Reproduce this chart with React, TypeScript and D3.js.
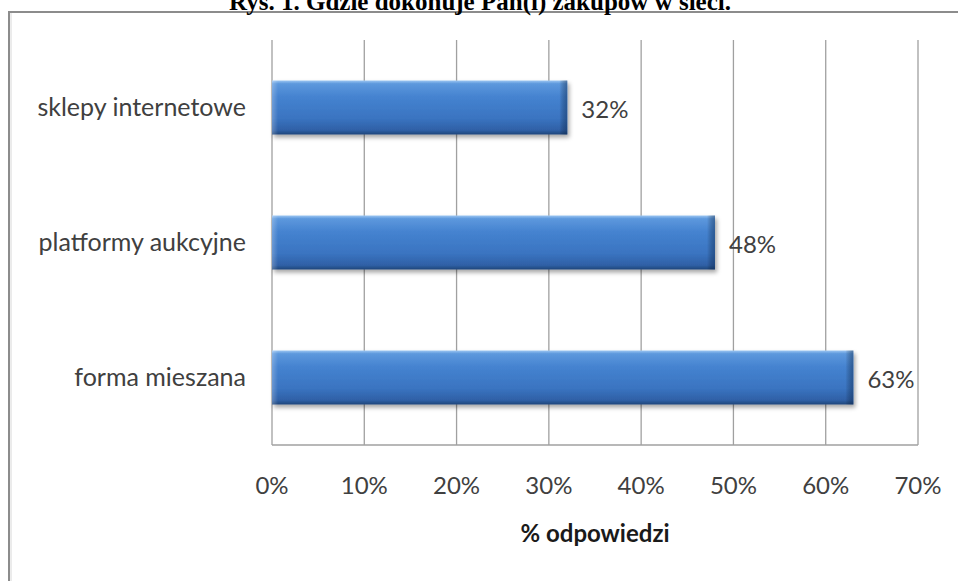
import React from "react";
import * as d3 from "d3";

const categories = ["sklepy internetowe", "platformy aukcyjne", "forma mieszana"];
const values = [32, 48, 63];
const xTicks = [0, 10, 20, 30, 40, 50, 60, 70];
const titleText = "Rys. 1. Gdzie dokonuje Pan(i) zakupów w sieci.";
const axisTitle = "% odpowiedzi";

const W = 958;
const H = 581;
const plot = { left: 272, right: 918, top: 40, bottom: 445 };
const font = "Lato, 'Open Sans', sans-serif";
const textColor = "#404040";

export default function App() {
  const x = d3.scaleLinear().domain([0, 70]).range([plot.left, plot.right]);
  const y = d3
    .scaleBand<string>()
    .domain(categories)
    .range([plot.top, plot.bottom])
    .paddingInner(0.6)
    .paddingOuter(0.3);
  const bw = y.bandwidth();

  return (
    <svg
      width={W}
      height={H}
      style={{ position: "absolute", left: 0, top: 0, background: "#fff" }}
    >
      <defs>
        <linearGradient id="barGrad" x1="0" y1="0" x2="0" y2="1">
          <stop offset="0" stopColor="#9cc6f2" />
          <stop offset="0.06" stopColor="#5d98dd" />
          <stop offset="0.3" stopColor="#4583d0" />
          <stop offset="0.7" stopColor="#3a74c1" />
          <stop offset="0.92" stopColor="#2f60a6" />
          <stop offset="1" stopColor="#1f467a" />
        </linearGradient>
        <linearGradient id="endGrad" x1="0" y1="0" x2="1" y2="0">
          <stop offset="0" stopColor="#000" stopOpacity="0" />
          <stop offset="1" stopColor="#0b2850" stopOpacity="0.45" />
        </linearGradient>
        <linearGradient id="startGrad" x1="0" y1="0" x2="1" y2="0">
          <stop offset="0" stopColor="#fff" stopOpacity="0.25" />
          <stop offset="1" stopColor="#fff" stopOpacity="0" />
        </linearGradient>
        <filter id="shadow" x="-5%" y="-20%" width="110%" height="150%">
          <feDropShadow dx="2" dy="3" stdDeviation="2.2" floodColor="#000" floodOpacity="0.35" />
        </filter>
      </defs>

      {/* frame */}
      <rect x={9} y={12} width={W} height={H} fill="#fff" stroke="#8c8c8c" strokeWidth={2} />
      <line x1={11} y1={13} x2={11} y2={H} stroke="#d8d8d8" strokeWidth={1} />

      {/* title (cut off at top, as in the source) */}
      <text
        x={480}
        y={10}
        textAnchor="middle"
        fontFamily="'Liberation Serif', 'Times New Roman', serif"
        fontWeight="bold"
        fontSize={25}
        fill="#000"
      >
        {titleText}
      </text>

      {/* gridlines */}
      {xTicks.map((t) => (
        <line
          key={t}
          x1={x(t)}
          x2={x(t)}
          y1={plot.top}
          y2={plot.bottom}
          stroke="#a0a0a0"
          strokeWidth={1.3}
        />
      ))}
      <line x1={plot.left} x2={plot.right} y1={plot.bottom} y2={plot.bottom} stroke="#a0a0a0" strokeWidth={1.5} />

      {/* bars */}
      {categories.map((c, i) => {
        const y0 = y(c)!;
        const x1 = x(values[i]);
        return (
          <g key={c}>
            <rect x={plot.left} y={y0} width={x1 - plot.left} height={bw} fill="url(#barGrad)" filter="url(#shadow)" />
            <rect x={x1 - 8} y={y0} width={8} height={bw} fill="url(#endGrad)" />
            <rect x={plot.left} y={y0} width={6} height={bw} fill="url(#startGrad)" />
          </g>
        );
      })}

      {/* category labels */}
      {categories.map((c) => (
        <text
          key={c}
          x={246}
          y={y(c)! + bw / 2 + 8}
          textAnchor="end"
          fontFamily={font}
          fontSize={25}
          fill={textColor}
        >
          {c}
        </text>
      ))}

      {/* value labels */}
      {categories.map((c, i) => (
        <text
          key={c}
          x={x(values[i]) + 14}
          y={y(c)! + bw / 2 + 10}
          fontFamily={font}
          fontSize={24}
          fill={textColor}
        >
          {values[i]}%
        </text>
      ))}

      {/* x tick labels */}
      {xTicks.map((t) => (
        <text
          key={t}
          x={x(t)}
          y={494}
          textAnchor="middle"
          fontFamily={font}
          fontSize={24}
          fill={textColor}
        >
          {t}%
        </text>
      ))}

      {/* axis title */}
      <text
        x={(plot.left + plot.right) / 2}
        y={542}
        textAnchor="middle"
        fontFamily={font}
        fontWeight="bold"
        fontSize={24}
        fill="#1a1a1a"
      >
        {axisTitle}
      </text>
    </svg>
  );
}
